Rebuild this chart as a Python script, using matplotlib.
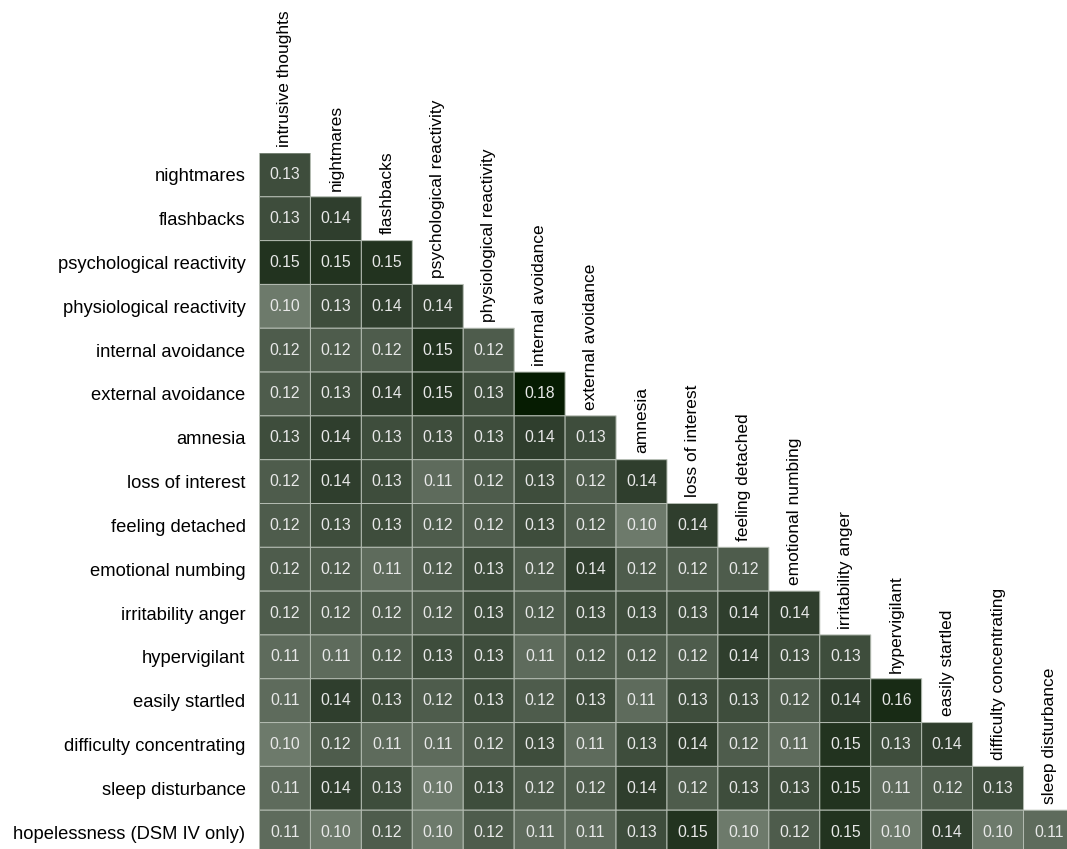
import numpy as np
import matplotlib
matplotlib.use("Agg")
import matplotlib.pyplot as plt
from matplotlib.colors import LinearSegmentedColormap

plt.rcParams["font.family"] = ["Liberation Sans", "DejaVu Sans"]

col_labels = [
    "intrusive thoughts", "nightmares", "flashbacks", "psychological reactivity",
    "physiological reactivity", "internal avoidance", "external avoidance",
    "amnesia", "loss of interest", "feeling detached", "emotional numbing",
    "irritability anger", "hypervigilant", "easily startled",
    "difficulty concentrating", "sleep disturbance",
]
row_labels = col_labels[1:] + ["hopelessness (DSM IV only)"]

# lower-triangular weights, one list per row
r_nightmares = [0.13]
r_flashbacks = [0.13, 0.14]
r_psych = [0.15, 0.15, 0.15]
r_physio = [0.10, 0.13, 0.14, 0.14]
r_internal = [0.12, 0.12, 0.12, 0.15, 0.12]
r_external = [0.12, 0.13, 0.14, 0.15, 0.13, 0.18]
r_amnesia = [0.13, 0.14, 0.13, 0.13, 0.13, 0.14, 0.13]
r_loss = [0.12, 0.14, 0.13, 0.11, 0.12, 0.13, 0.12, 0.14]
r_detached = [0.12, 0.13, 0.13, 0.12, 0.12, 0.13, 0.12, 0.10, 0.14]
r_numbing = [0.12, 0.12, 0.11, 0.12, 0.13, 0.12, 0.14, 0.12, 0.12, 0.12]
r_irritab = [0.12, 0.12, 0.12, 0.12, 0.13, 0.12, 0.13, 0.13, 0.13, 0.14, 0.14]
r_hyper = [0.11, 0.11, 0.12, 0.13, 0.13, 0.11, 0.12, 0.12, 0.12, 0.14, 0.13, 0.13]
r_startled = [0.11, 0.14, 0.13, 0.12, 0.13, 0.12, 0.13, 0.11, 0.13, 0.13, 0.12, 0.14, 0.16]
r_concentr = [0.10, 0.12, 0.11, 0.11, 0.12, 0.13, 0.11, 0.13, 0.14, 0.12, 0.11, 0.15, 0.13, 0.14]
r_sleep = [0.11, 0.14, 0.13, 0.10, 0.13, 0.12, 0.12, 0.14, 0.12, 0.13, 0.13, 0.15, 0.11, 0.12, 0.13]
r_hopeless = [0.11, 0.10, 0.12, 0.10, 0.12, 0.11, 0.11, 0.13, 0.15, 0.10, 0.12, 0.15, 0.10, 0.14, 0.10, 0.11]

rows = [r_nightmares, r_flashbacks, r_psych, r_physio, r_internal, r_external,
        r_amnesia, r_loss, r_detached, r_numbing, r_irritab, r_hyper,
        r_startled, r_concentr, r_sleep, r_hopeless]

n = len(row_labels)
mat = np.full((n, n), np.nan)
for i, r in enumerate(rows):
    mat[i, :len(r)] = r
data = np.ma.masked_invalid(mat)

cmap = LinearSegmentedColormap.from_list(
    "olive_dark",
    [(0.0, "#6d7a6b"), (0.25, "#4e5c4c"), (0.5, "#2f3e2d"),
     (0.625, "#22331f"), (1.0, "#061c02")],
)

fig = plt.figure(figsize=(10.67, 8.49), dpi=100)
ax = fig.add_axes([0.2432, -0.0059, 0.7638, 0.8257])
# pcolor leaves masked (upper-triangle) cells out entirely
ax.pcolor(np.arange(n + 1), np.arange(n + 1), data, cmap=cmap,
          vmin=0.10, vmax=0.18, edgecolor="#b4bcb2", linewidth=0.7)
ax.set_xlim(0, n)
ax.set_ylim(n, 0)

for i in range(n):
    for j in range(i + 1):
        ax.text(j + 0.5, i + 0.5, f"{mat[i, j]:.2f}", ha="center", va="center",
                color="#e8e8e8", fontsize=11.3)

ax.set_yticks(np.arange(n) + 0.5)
ax.set_yticklabels(row_labels, fontsize=13.2)
ax.tick_params(axis="y", length=0, pad=10)
ax.set_xticks([])
for s in ax.spines.values():
    s.set_visible(False)

# column names sit just above the first cell of each column
for j, name in enumerate(col_labels):
    ax.annotate(name, xy=(j + 0.5, j), xytext=(0, 4.5), textcoords="offset points",
                rotation=90, ha="center", va="bottom", fontsize=12.5,
                annotation_clip=False)

fig.savefig("out.png", dpi=100)
